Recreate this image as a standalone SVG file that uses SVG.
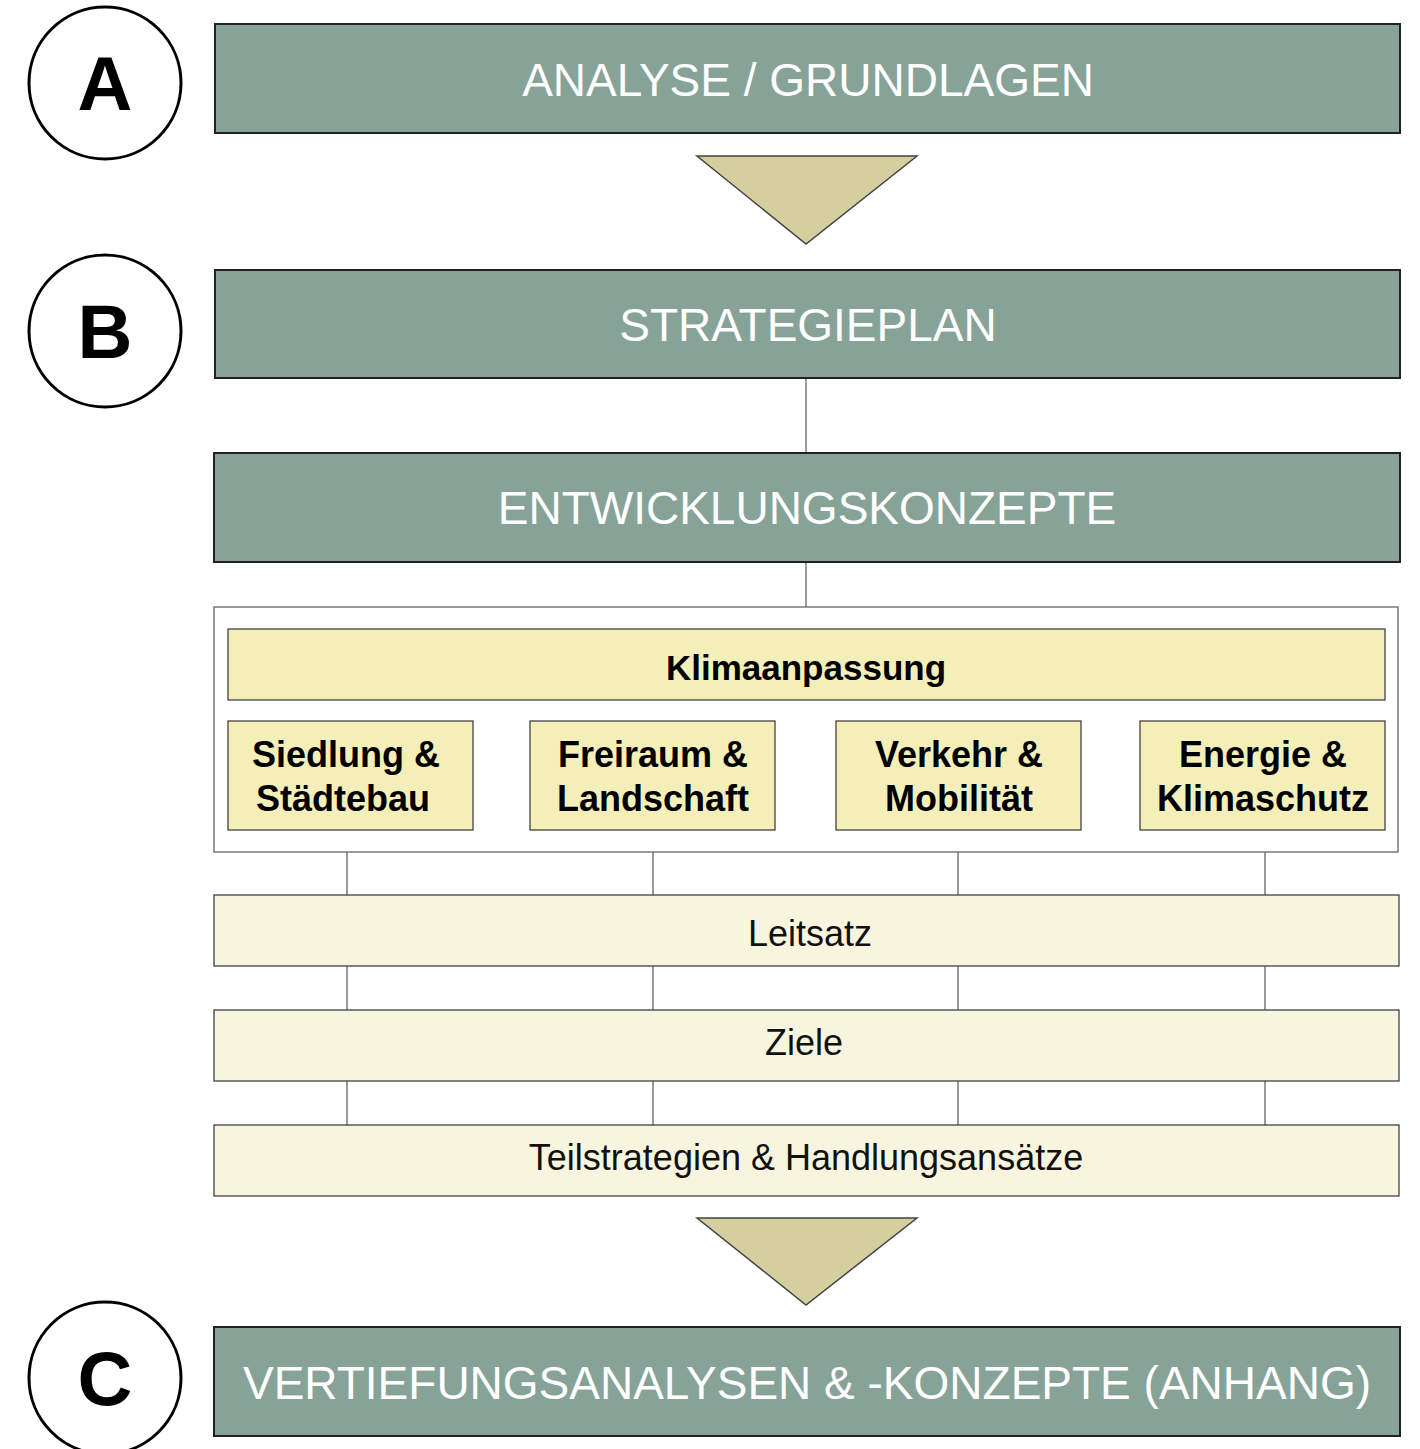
<svg xmlns="http://www.w3.org/2000/svg" width="1420" height="1449" viewBox="0 0 1420 1449">
<style>
.bar{fill:#87a398;stroke:#222;stroke-width:2}
.bt{font-family:"Liberation Sans",Arial,sans-serif;font-size:46px;fill:#fff;text-anchor:middle}
.circ{fill:#fff;stroke:#000;stroke-width:3}
.ct{font-family:"Liberation Sans",Arial,sans-serif;font-size:76px;font-weight:bold;fill:#000;text-anchor:middle}
.tri{fill:#d5cfa0;stroke:#444;stroke-width:1.5}
.yb{fill:#f4efb8;stroke:#333;stroke-width:1.2}
.lb{fill:#f8f5de;stroke:#333;stroke-width:1.2}
.st{font-family:"Liberation Sans",Arial,sans-serif;font-size:36px;font-weight:bold;fill:#000;text-anchor:middle}
.lt{font-family:"Liberation Sans",Arial,sans-serif;font-size:36px;fill:#111;text-anchor:middle}
.ln{stroke:#666;stroke-width:1.3;fill:none}
</style>
<g id="circleA"><circle class="circ" cx="105" cy="83" r="76"/><text class="ct" x="105" y="110">A</text></g>
<g id="circleB"><circle class="circ" cx="105" cy="331" r="76"/><text class="ct" x="105" y="358">B</text></g>
<g id="circleC"><circle class="circ" cx="105" cy="1378" r="76"/><text class="ct" x="105" y="1405">C</text></g>
<g id="connectors">
<line class="ln" x1="806" y1="378" x2="806" y2="453"/>
<line class="ln" x1="806" y1="562" x2="806" y2="607"/>
<path class="ln" d="M347 852V895M653 852V895M958 852V895M1265 852V895M347 966V1010M653 966V1010M958 966V1010M1265 966V1010M347 1081V1125M653 1081V1125M958 1081V1125M1265 1081V1125"/>
<polygon class="tri" points="697,156 917,156 806,244"/>
<polygon class="tri" points="697,1218 917,1218 806,1305"/>
</g>
<g id="analyse"><rect class="bar" x="215" y="24" width="1185" height="109"/><text class="bt" x="808" y="96">ANALYSE / GRUNDLAGEN</text></g>
<g id="strategieplan"><rect class="bar" x="215" y="270" width="1185" height="108"/><text class="bt" x="808" y="341">STRATEGIEPLAN</text></g>
<g id="entwicklung"><rect class="bar" x="214" y="453" width="1186" height="109"/><text class="bt" x="807" y="524">ENTWICKLUNGSKONZEPTE</text></g>
<g id="container"><rect x="214" y="607" width="1184" height="245" fill="#fff" stroke="#666" stroke-width="1.3"/></g>
<g id="klima"><rect class="yb" x="228" y="629" width="1157" height="71"/><text class="st" x="806" y="680" style="font-size:35px">Klimaanpassung</text></g>
<g id="siedlung"><rect class="yb" x="228" y="721" width="245" height="109"/><text class="st" x="346" y="767">Siedlung &amp;</text><text class="st" x="343" y="811">Städtebau</text></g>
<g id="freiraum"><rect class="yb" x="530" y="721" width="245" height="109"/><text class="st" x="653" y="767">Freiraum &amp;</text><text class="st" x="653" y="811">Landschaft</text></g>
<g id="verkehr"><rect class="yb" x="836" y="721" width="245" height="109"/><text class="st" x="959" y="767">Verkehr &amp;</text><text class="st" x="959" y="811">Mobilität</text></g>
<g id="energie"><rect class="yb" x="1140" y="721" width="245" height="109"/><text class="st" x="1263" y="767">Energie &amp;</text><text class="st" x="1263" y="811">Klimaschutz</text></g>
<g id="leitsatz"><rect class="lb" x="214" y="895" width="1185" height="71"/><text class="lt" x="810" y="946">Leitsatz</text></g>
<g id="ziele"><rect class="lb" x="214" y="1010" width="1185" height="71"/><text class="lt" x="804" y="1055">Ziele</text></g>
<g id="teil"><rect class="lb" x="214" y="1125" width="1185" height="71"/><text class="lt" x="806" y="1170">Teilstrategien &amp; Handlungsansätze</text></g>
<g id="vertiefung"><rect class="bar" x="214" y="1327" width="1186" height="109"/><text class="bt" x="807" y="1399">VERTIEFUNGSANALYSEN &amp; -KONZEPTE (ANHANG)</text></g>
</svg>
